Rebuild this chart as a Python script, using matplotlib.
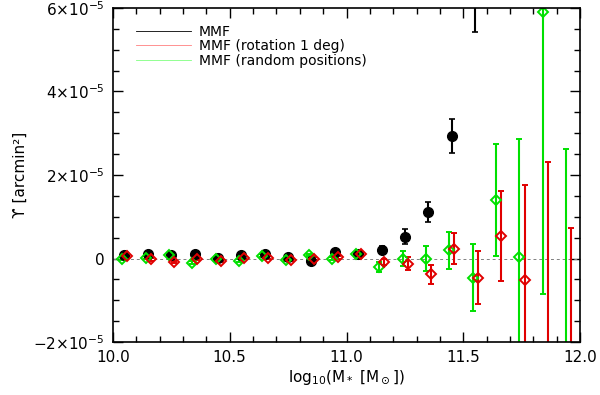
import matplotlib
matplotlib.use("Agg")
import matplotlib.pyplot as plt
import numpy as np
from matplotlib.ticker import MultipleLocator, FuncFormatter

plt.rcParams['font.family'] = ['DejaVu Sans']
plt.rcParams['mathtext.fontset'] = 'dejavusans'

# bin centres in log10(M*)
mass = np.array([10.05, 10.15, 10.25, 10.35, 10.45, 10.55, 10.65, 10.75, 10.85, 10.95,
                 11.05, 11.15, 11.25, 11.35, 11.45, 11.55, 11.65, 11.75, 11.85, 11.95])

# MMF (units of 1e-5 arcmin^2)
y_mmf = [0.08, 0.10, 0.08, 0.10, 0.02, 0.08, 0.10, 0.04, -0.06, 0.16,
         0.10, 0.20, 0.52, 1.11, 2.93, 6.40]
e_mmf = [0.03, 0.03, 0.03, 0.03, 0.03, 0.03, 0.03, 0.04, 0.04, 0.05,
         0.06, 0.10, 0.18, 0.24, 0.41, 0.97]

# MMF (rotation 1 deg)
y_rot = [0.07, -0.02, -0.08, -0.01, -0.06, 0.02, 0.02, -0.04, 0.00, 0.03,
         0.10, -0.08, -0.12, -0.38, 0.24, -0.46, 0.54, -0.51, -2.60, -3.50]
e_rot = [0.03, 0.03, 0.03, 0.03, 0.03, 0.03, 0.03, 0.03, 0.03, 0.04,
         0.05, 0.08, 0.16, 0.23, 0.37, 0.64, 1.08, 2.28, 4.90, 4.22]

# MMF (random positions)
y_rnd = [0.00, 0.02, 0.08, -0.10, 0.00, -0.05, 0.07, -0.04, 0.08, 0.00,
         0.10, -0.20, 0.00, 0.00, 0.20, -0.46, 1.40, 0.04, 5.89, -3.00]
e_rnd = [0.03, 0.03, 0.03, 0.03, 0.03, 0.03, 0.03, 0.03, 0.03, 0.04,
         0.05, 0.12, 0.19, 0.29, 0.44, 0.80, 1.33, 2.82, 6.75, 5.62]

scale = 1e-5

fig = plt.figure(figsize=(6.0, 3.95), dpi=100)
ax = fig.add_axes([0.188, 0.134, 0.779, 0.846])

ax.axhline(0, color='gray', ls='--', lw=0.7, dashes=(3, 3))

ax.errorbar(mass[:len(y_mmf)], np.array(y_mmf) * scale, yerr=np.array(e_mmf) * scale,
            fmt='o', color='black', ms=7, capsize=2.5, elinewidth=1.5, capthick=1.2)
ax.errorbar(mass - 0.01, np.array(y_rnd) * scale, yerr=np.array(e_rnd) * scale,
            fmt='D', color='#00e000', mfc='none', mec='#00e000', ms=5.5, mew=1.4,
            capsize=2.5, elinewidth=1.5, capthick=1.2)
ax.errorbar(mass + 0.012, np.array(y_rot) * scale, yerr=np.array(e_rot) * scale,
            fmt='D', color='#e00000', mfc='none', mec='#e00000', ms=5.5, mew=1.4,
            capsize=2.5, elinewidth=1.5, capthick=1.2)

# legend drawn as thin lines
ax.plot([], [], color='black', lw=0.6, label='MMF')
ax.plot([], [], color='#ff8080', lw=0.6, label='MMF (rotation 1 deg)')
ax.plot([], [], color='#80ff80', lw=0.6, label='MMF (random positions)')
handles, labels = ax.get_legend_handles_labels()
ax.legend(handles[-3:], labels[-3:], loc='upper left', bbox_to_anchor=(0.049, 0.95),
          frameon=False, fontsize=10, handlelength=4.0, labelspacing=0.05,
          handletextpad=0.55, borderpad=0, borderaxespad=0)

ax.set_xlim(10.0, 12.0)
ax.set_ylim(-2e-5, 6e-5)
ax.xaxis.set_major_locator(MultipleLocator(0.5))
ax.xaxis.set_minor_locator(MultipleLocator(0.1))
ax.yaxis.set_major_locator(MultipleLocator(2e-5))
ax.yaxis.set_minor_locator(MultipleLocator(0.5e-5))


def yfmt(v, pos):
    n = int(round(v / 1e-5))
    if n == 0:
        return '0'
    return r'$%s{\times}10^{-5}$' % ('\u2212%d' % -n if n < 0 else '%d' % n)


ax.yaxis.set_major_formatter(FuncFormatter(yfmt))
ax.xaxis.set_major_formatter(FuncFormatter(lambda v, p: '%.1f' % v))
ax.tick_params(which='both', direction='in', top=True, right=True, labelsize=11, width=1)
ax.tick_params(which='major', length=7, pad=6)
ax.tick_params(which='minor', length=4)
for s in ax.spines.values():
    s.set_linewidth(1.2)

ax.set_xlabel(r'log$_{10}$(M$_*$ [M$_\odot$])', fontsize=11, labelpad=2)
ax.set_ylabel('\u03d2 [arcmin\u00b2]', fontsize=11, labelpad=4)

fig.savefig('out.png', dpi=100)
